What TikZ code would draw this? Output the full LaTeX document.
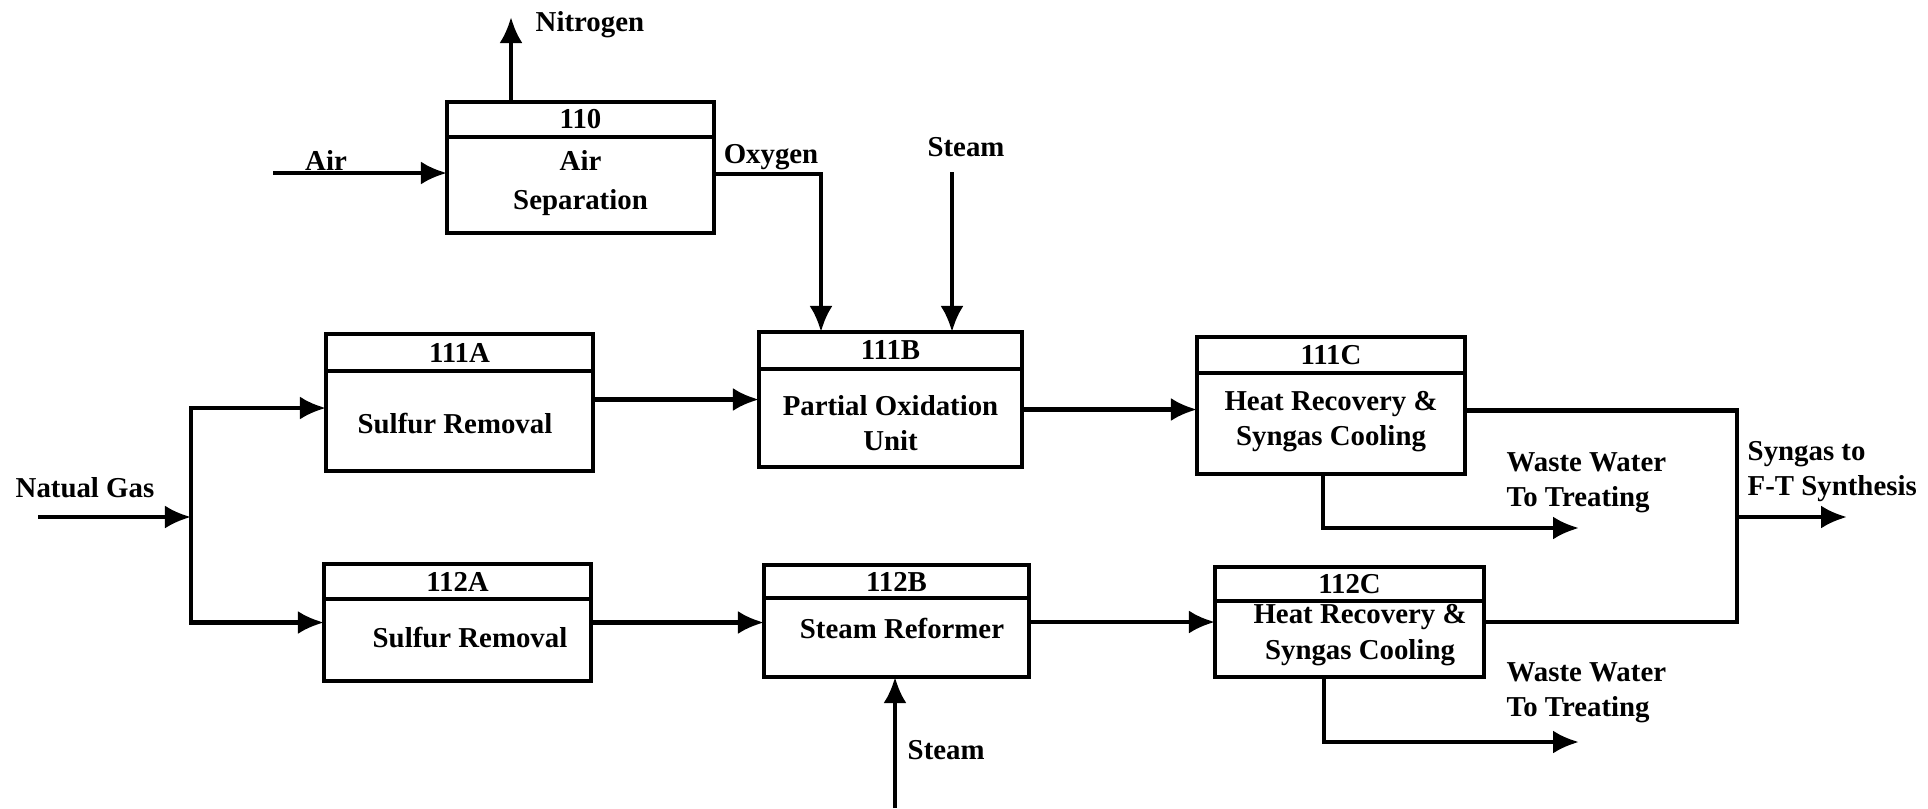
\documentclass[tikz,border=0pt]{standalone}
\usepackage{fontspec}
\setmainfont{Liberation Serif}
\usetikzlibrary{positioning,arrows.meta,calc}

\tikzset{
  unitbox/.style={draw, line width=1.2pt, inner sep=0pt, outer sep=0pt},
  hdrbox/.style={draw, line width=1.2pt, inner sep=0pt, outer sep=0pt, anchor=north, font=\bfseries\fontsize{8.2}{10}\selectfont},
  lbl/.style={inner sep=0pt, align=center, font=\bfseries\fontsize{8.2}{10}\selectfont},
  flow/.style={line width=1.2pt, -{Latex[length=2.6mm,width=2.3mm]}},
  pipe/.style={line width=1.2pt},
}

\begin{document}
\begin{tikzpicture}[x=0.01cm,y=-0.01cm]
\useasboundingbox (0,0) rectangle (1928,808);

% process units
\node[unitbox, minimum width=2.67cm, minimum height=1.31cm] (asu) at (580.5,167.5) {};
\node[hdrbox, minimum width=2.67cm, minimum height=0.35cm] (asu-id) at (asu.north) {110};
\node[lbl, font=\bfseries\fontsize{8.2}{11}\selectfont] (asu-txt) at (580.5,183) {Air\\Separation};

\node[unitbox, minimum width=2.67cm, minimum height=1.37cm] (sr1) at (459.5,402.5) {};
\node[hdrbox, minimum width=2.67cm, minimum height=0.37cm] (sr1-id) at (sr1.north) {111A};
\node[lbl] (sr1-txt) at (455,424) {Sulfur Removal};

\node[unitbox, minimum width=2.63cm, minimum height=1.35cm] (pox) at (890.5,399.5) {};
\node[hdrbox, minimum width=2.63cm, minimum height=0.37cm] (pox-id) at (pox.north) {111B};
\node[lbl] (pox-txt) at (890.5,423) {Partial Oxidation\\Unit};

\node[unitbox, minimum width=2.68cm, minimum height=1.37cm] (hr1) at (1331,405.5) {};
\node[hdrbox, minimum width=2.68cm, minimum height=0.36cm] (hr1-id) at (hr1.north) {111C};
\node[lbl] (hr1-txt) at (1331,421.5) {Heat Recovery \&\\Syngas Cooling};

\node[unitbox, minimum width=2.67cm, minimum height=1.17cm] (sr2) at (457.5,622.5) {};
\node[hdrbox, minimum width=2.67cm, minimum height=0.35cm] (sr2-id) at (sr2.north) {112A};
\node[lbl] (sr2-txt) at (470,638) {Sulfur Removal};

\node[unitbox, minimum width=2.65cm, minimum height=1.12cm] (smr) at (896.5,621) {};
\node[hdrbox, minimum width=2.65cm, minimum height=0.33cm] (smr-id) at (smr.north) {112B};
\node[lbl] (smr-txt) at (902,628) {Steam Reformer};

\node[unitbox, minimum width=2.69cm, minimum height=1.10cm] (hr2) at (1349.5,622) {};
\node[hdrbox, minimum width=2.69cm, minimum height=0.34cm] (hr2-id) at (hr2.north) {112C};
\node[lbl] (hr2-txt) at (1360,635) {Heat Recovery \&\\Syngas Cooling};

% stream labels
\node[lbl, anchor=west] (n2-lbl) at (535,25) {Nitrogen};
\node[lbl] (air-lbl) at (326,160) {Air};
\node[lbl] (o2-lbl) at (771,157) {Oxygen};
\node[lbl] (stm1-lbl) at (966,147) {Steam};
\node[lbl] (ng-lbl) at (85,488) {Natual Gas};
\node[lbl, align=left, anchor=west] (ww1-lbl) at (1506,482.5) {Waste Water\\To Treating};
\node[lbl, align=left, anchor=west] (ww2-lbl) at (1506,692.5) {Waste Water\\To Treating};
\node[lbl, align=left, anchor=west] (syn-lbl) at (1747,471.5) {Syngas to\\F-T Synthesis};
\node[lbl, anchor=west] (stm2-lbl) at (907,750) {Steam};

% stream ends and bends
\coordinate (airin) at (273,173);
\coordinate (n2out) at (511,17);
\coordinate (o2bend) at (821,174);
\coordinate (stm1in) at (952,172);
\coordinate (ngin) at (38,517);
\coordinate (ngsplit) at (191,517);
\coordinate (sr1in) at ($(sr1.west)+(0,5.5)$);
\coordinate (hr1in) at ($(hr1.west)+(0,4)$);
\coordinate (hr1out) at ($(hr1.east)+(0,5)$);
\coordinate (synmerge) at (1737,517);
\coordinate (synout) at (1847,517);
\coordinate (ww1bend) at (1323,528);
\coordinate (ww1out) at (1579,528);
\coordinate (ww2bend) at (1324,742);
\coordinate (ww2out) at (1579,742);
\coordinate (stm2in) at (895,808);

% streams
\draw[flow] (airin) -- (airin -| asu.west);
\draw[flow] (n2out |- asu-id.north) -- (n2out);
\draw[flow] (o2bend -| asu.east) -- (o2bend) -- (o2bend |- pox-id.north);
\draw[flow] (stm1in) -- (stm1in |- pox-id.north);
\draw[flow] (ngin) -- (ngsplit);
\draw[flow, {Latex[length=2.6mm,width=2.3mm]}-{Latex[length=2.6mm,width=2.3mm]}] (sr1in) -| (ngsplit) |- (sr2.west);
\draw[flow] (sr1.east |- pox.west) -- (pox.west);
\draw[flow] (pox.east |- hr1in) -- (hr1in);
\draw[flow] (sr2.east) -- (sr2.east -| smr.west);
\draw[flow] (smr.east |- hr2.west) -- (hr2.west);
\draw[pipe] (hr1out) -| (synmerge) |- (hr2.east);
\draw[flow] (synmerge) -- (synout);
\draw[flow] (ww1bend |- hr1.south) -- (ww1bend) -- (ww1out);
\draw[flow] (ww2bend |- hr2.south) -- (ww2bend) -- (ww2out);
\draw[flow] (stm2in) -- (stm2in |- smr.south);
\end{tikzpicture}
\end{document}
